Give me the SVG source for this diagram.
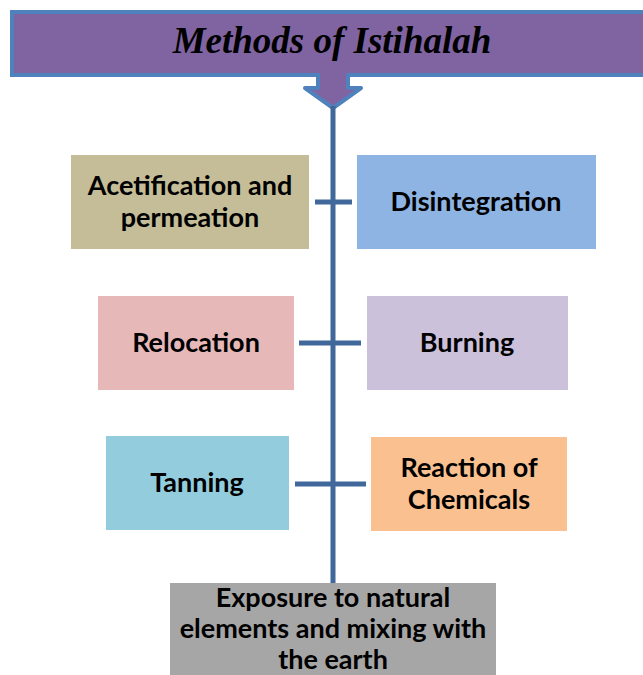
<svg xmlns="http://www.w3.org/2000/svg" width="643" height="675" viewBox="0 0 643 675">
<style>
.t{font-family:Lato,"Liberation Sans",sans-serif;font-weight:bold;font-size:27px;fill:#000;text-anchor:middle}
.c{stroke:#41689a;stroke-width:5;fill:none}
</style>
<rect width="643" height="675" fill="#fff"/>
<g id="title">
<rect x="12" y="12" width="640" height="63" fill="#8064a2" stroke="#4f81bd" stroke-width="4"/>
<path d="M318,75 V88 H305 L333,108 L361,88 H348 V75" fill="#8064a2" stroke="#4f81bd" stroke-width="4" stroke-linejoin="round"/>
<rect x="320" y="70" width="26" height="8" fill="#8064a2"/>
<text x="332" y="53" font-family="'Liberation Serif',serif" font-weight="bold" font-style="italic" font-size="37" text-anchor="middle">Methods of Istihalah</text>
</g>
<g id="connectors">
<line class="c" x1="333" y1="106" x2="333" y2="583"/>
<line class="c" x1="315" y1="202" x2="352" y2="202"/>
<line class="c" x1="299" y1="343" x2="361" y2="343"/>
<line class="c" x1="295" y1="484" x2="366" y2="484"/>
</g>
<g id="acetification">
<rect x="71" y="155" width="238" height="94" fill="#c4bd97"/>
<text class="t" x="190" y="195">Acetification and</text>
<text class="t" x="190" y="227">permeation</text>
</g>
<g id="disintegration">
<rect x="357" y="155" width="239" height="94" fill="#8eb4e3"/>
<text class="t" x="476" y="211">Disintegration</text>
</g>
<g id="relocation">
<rect x="98" y="296" width="196" height="94" fill="#e6b9b8"/>
<text class="t" x="196" y="352">Relocation</text>
</g>
<g id="burning">
<rect x="367" y="296" width="201" height="94" fill="#ccc1da"/>
<text class="t" x="467" y="352">Burning</text>
</g>
<g id="tanning">
<rect x="106" y="436" width="183" height="94" fill="#93cddd"/>
<text class="t" x="197" y="492">Tanning</text>
</g>
<g id="reaction">
<rect x="371" y="437" width="196" height="94" fill="#fac090"/>
<text class="t" x="469" y="477">Reaction of</text>
<text class="t" x="469" y="509">Chemicals</text>
</g>
<g id="exposure">
<rect x="170" y="583" width="326" height="92" fill="#a6a6a6"/>
<text class="t" x="333" y="607">Exposure to natural</text>
<text class="t" x="333" y="638">elements and mixing with</text>
<text class="t" x="333" y="669">the earth</text>
</g>
</svg>
